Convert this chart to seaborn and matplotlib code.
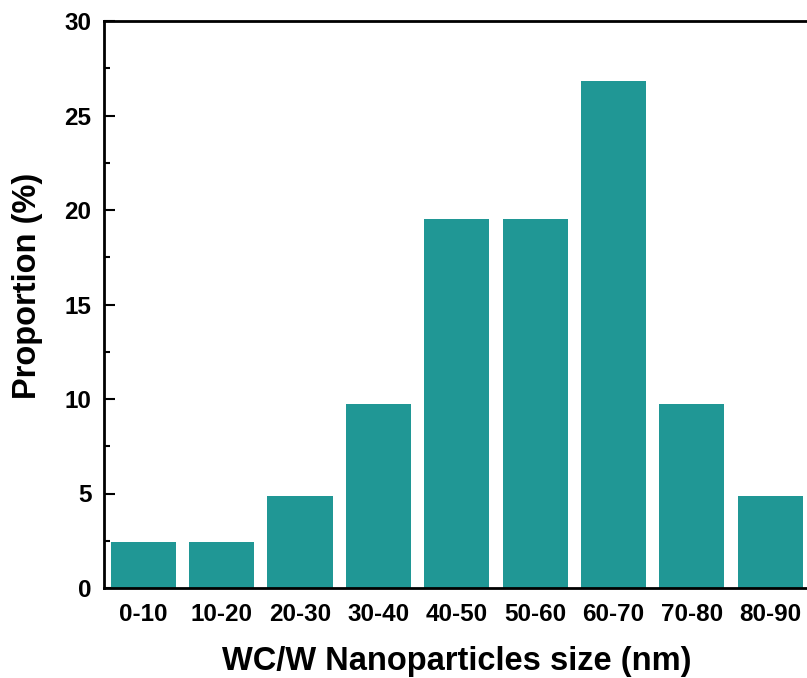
import matplotlib
matplotlib.use("Agg")
import matplotlib.pyplot as plt
import seaborn as sns
import pandas as pd
from matplotlib.ticker import MultipleLocator

categories = ["0-10", "10-20", "20-30", "30-40", "40-50", "50-60", "60-70", "70-80", "80-90"]
proportion = [2.44, 2.44, 4.88, 9.76, 19.51, 19.51, 26.83, 9.76, 4.88]

df = pd.DataFrame({"size": categories, "prop": proportion})

sns.set_style("ticks")
plt.rcParams['font.family'] = ['Liberation Sans', 'DejaVu Sans']
plt.rcParams['text.color'] = 'black'
plt.rcParams['axes.labelcolor'] = 'black'
plt.rcParams['xtick.color'] = 'black'
plt.rcParams['ytick.color'] = 'black'

fig = plt.figure(figsize=(8.07, 6.78), dpi=100)
ax = fig.add_axes([104/807, 1 - 588/678, (809.5 - 104)/807, (588 - 21)/678])

sns.barplot(data=df, x="size", y="prop", color="#209795", saturation=1,
            width=0.83, ax=ax, edgecolor="none")

ax.set_ylim(0, 30)
ax.set_xlim(-0.5, len(categories) - 0.5)
ax.yaxis.set_major_locator(MultipleLocator(5))
ax.yaxis.set_minor_locator(MultipleLocator(2.5))
ax.tick_params(axis='y', which='major', direction='in', length=8, width=1.5, labelsize=17.5, pad=9)
ax.tick_params(axis='y', which='minor', direction='in', length=4, width=1.5)
ax.tick_params(axis='x', which='both', length=0, labelsize=17.5, pad=11)
for lbl in ax.get_xticklabels() + ax.get_yticklabels():
    lbl.set_fontweight('bold')

for s in ax.spines.values():
    s.set_linewidth(2)
    s.set_color('black')

ax.set_xlabel("WC/W Nanoparticles size (nm)", fontsize=23.5, fontweight='bold', labelpad=14)
ax.set_ylabel("Proportion (%)", fontsize=23.5, fontweight='bold')
ax.yaxis.set_label_coords(-0.086, 0.533)

fig.savefig("out.png", dpi=100)
